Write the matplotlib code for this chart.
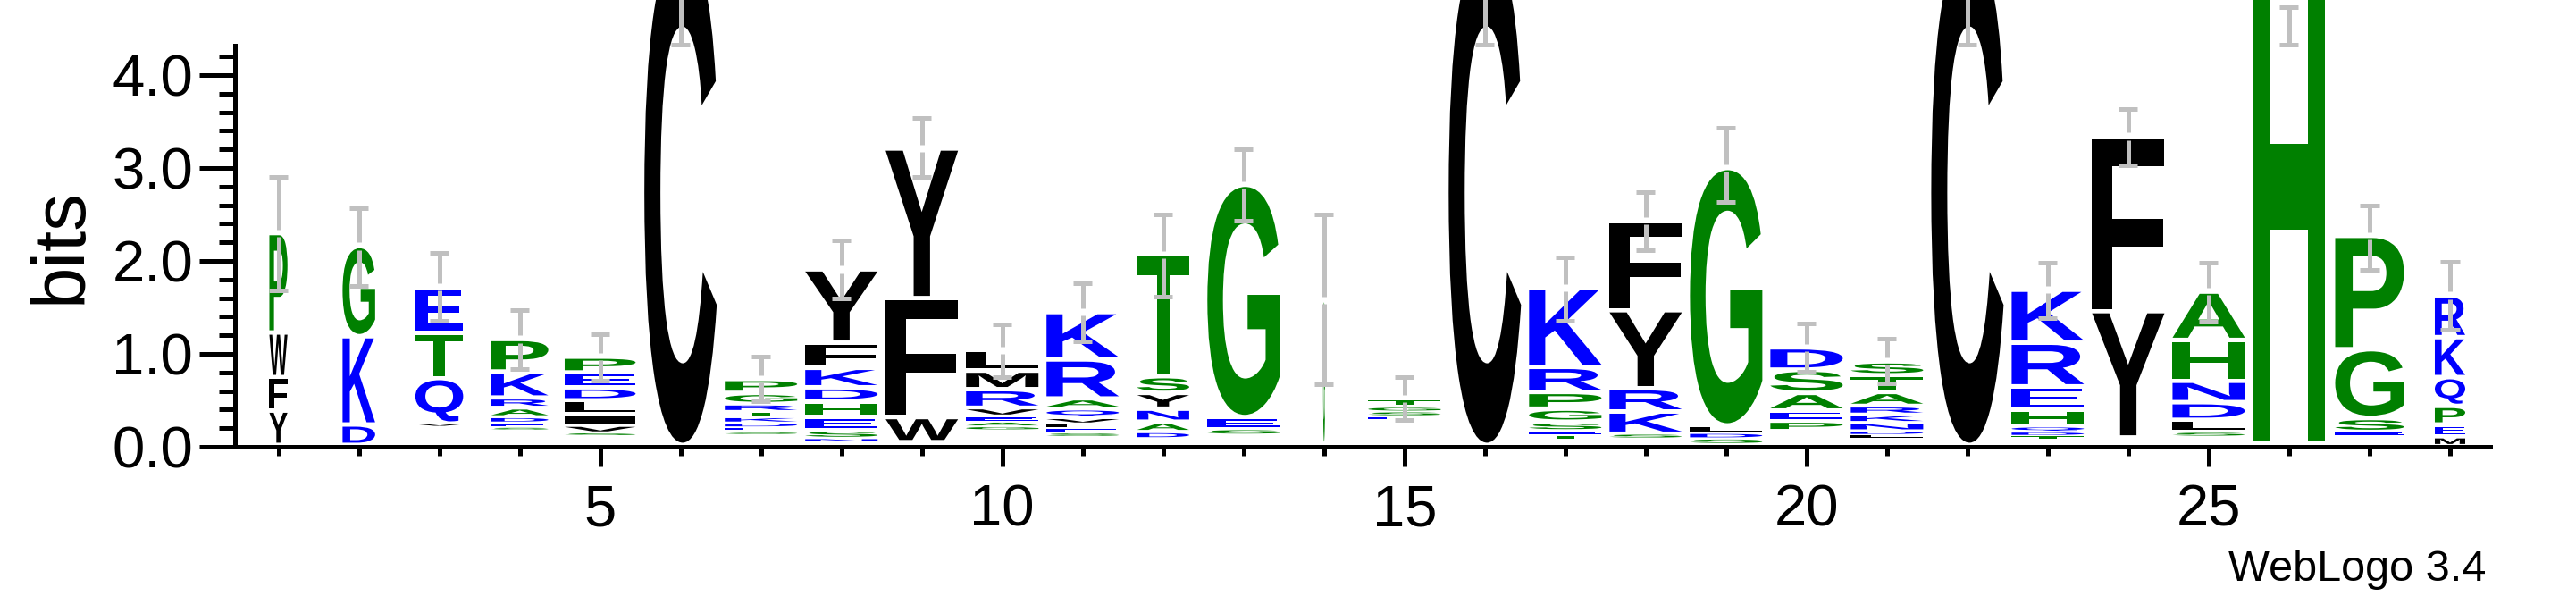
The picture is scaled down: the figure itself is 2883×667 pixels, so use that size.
import matplotlib
matplotlib.use("Agg")
import matplotlib.pyplot as plt
from matplotlib.textpath import TextPath
from matplotlib.patches import PathPatch
from matplotlib.font_manager import FontProperties
from matplotlib.transforms import Affine2D

# Sequence logo data, one entry per position, letters listed bottom -> top
positions = list(range(1, 29))
letters = [
    "YFWP", "DKG", "VQTE", "SEDARKP", "SVILDEP", "C", "SEDKTRGP", "NSEHDKFY",
    "WFY", "GAEVRML", "SELVQARK", "DANYST", "SEG", "G", "ESGT", "C",
    "TESGPRK", "SKRYF", "SDLG", "PEASD", "LDNKRATS", "C", "TDQHERK", "YF",
    "SLDNHA", "H", "ESGP", "MEPQKR",
]
heights = [
    [0.37, 0.36, 0.48, 1.07],
    [0.22, 0.95, 0.97],
    [0.03, 0.49, 0.49, 0.49],
    [0.03, 0.05, 0.06, 0.10, 0.11, 0.28, 0.35],
    [0.03, 0.08, 0.12, 0.15, 0.14, 0.16, 0.17],
    [5.38],
    [0.04, 0.04, 0.05, 0.06, 0.06, 0.08, 0.12, 0.15],
    [0.04, 0.09, 0.14, 0.17, 0.15, 0.21, 0.27, 0.79],
    [0.27, 1.28, 1.61],
    [0.04, 0.05, 0.06, 0.09, 0.20, 0.20, 0.22],
    [0.04, 0.05, 0.05, 0.06, 0.10, 0.11, 0.42, 0.51],
    [0.07, 0.11, 0.14, 0.17, 0.18, 1.31],
    [0.06, 0.13, 2.50],
    [1.55],
    [0.04, 0.05, 0.05, 0.09],
    [5.38],
    [0.05, 0.04, 0.10, 0.14, 0.18, 0.27, 0.85],
    [0.05, 0.24, 0.25, 0.84, 0.96],
    [0.06, 0.06, 0.08, 2.77],
    [0.11, 0.11, 0.19, 0.25, 0.24],
    [0.04, 0.04, 0.09, 0.09, 0.09, 0.15, 0.18, 0.15],
    [5.38],
    [0.04, 0.04, 0.06, 0.18, 0.25, 0.47, 0.57],
    [1.36, 1.88],
    [0.05, 0.13, 0.19, 0.23, 0.44, 0.52],
    [5.37],
    [0.04, 0.15, 0.74, 1.22],
    [0.10, 0.13, 0.20, 0.31, 0.43, 0.45],
]
# height of the many tiny, invisible symbols under each stack
base = [0.02, 0.02, 0.22, 0.18, 0.12, 0.02, 0.13, 0.05, 0.05, 0.18,
        0.11, 0.09, 0.13, 0.03, 0.29, 0.02, 0.08, 0.09, 0.03, 0.17,
        0.09, 0.02, 0.08, 0.10, 0.11, 0.03, 0.12, 0.01]
# stack width = fraction of non-gap symbols
widths = [0.25, 0.45, 0.66, 0.79, 0.98, 1.0, 1.0, 1.0, 1.0, 1.0,
          1.0, 0.72, 1.0, 0.025, 1.0, 1.0, 1.0, 1.0, 1.0, 1.0,
          1.0, 1.0, 1.0, 1.0, 1.0, 1.0, 0.95, 0.42]
err_lo = [1.68, 1.73, 1.36, 0.84, 0.71, 4.33, 0.49, 1.60, 2.90, 0.75,
          1.13, 1.62, 2.43, 0.67, 0.29, 4.33, 1.36, 2.12, 2.63, 0.81,
          0.68, 4.33, 1.38, 3.03, 1.35, 4.33, 1.90, 1.26]
err_hi = [2.90, 2.57, 2.09, 1.47, 1.21, 6.47, 0.97, 2.22, 3.54, 1.32,
          1.76, 2.50, 3.20, 2.50, 0.75, 6.47, 2.04, 2.74, 3.43, 1.33,
          1.16, 6.47, 1.98, 3.63, 1.98, 4.73, 2.60, 1.99]

colors = {}
for c in "CFWYLMIV":
    colors[c] = "black"
for c in "PGTSAH":
    colors[c] = "#008000"
for c in "KRDEQN":
    colors[c] = "#0000ff"

font = "Liberation Sans"
glyph_font = FontProperties(family=font, weight="bold")

W, H = 2883, 667
fig = plt.figure(figsize=(W / 100, H / 100), dpi=100)
ax = fig.add_axes([263 / W, 167 / H, (2787 - 263) / W, 500 / H])
ax.set_xlim(0.46, 28.5)
ax.set_ylim(0, 500 / 104)

full_w = 0.9
for pos, seq, hs, b, wf in zip(positions, letters, heights, base, widths):
    y = b
    for ch, h in zip(seq, hs):
        tp = TextPath((0, 0), ch, size=1, prop=glyph_font)
        ext = tp.get_extents()
        pad = min(0.024, 0.2 * h)
        w = full_w * wf
        tr = (Affine2D()
              .translate(-ext.x0, -ext.y0)
              .scale(w / ext.width, (h - 2 * pad) / ext.height)
              .translate(pos - w / 2, y + pad))
        ax.add_patch(PathPatch(tr.transform_path(tp), facecolor=colors[ch],
                               edgecolor="none", lw=0))
        y += h

# error bars, with a small break at the stack top
gap = 0.04
cap = 0.117
for pos, hs, b, lo, hi in zip(positions, heights, base, err_lo, err_hi):
    top = b + sum(hs)
    kw = dict(color="#c0c0c0", lw=3.6, solid_capstyle="butt", zorder=5)
    if lo < top < hi:
        ax.plot([pos, pos], [lo, top - gap], **kw)
        ax.plot([pos, pos], [top + gap, hi], **kw)
    else:
        ax.plot([pos, pos], [lo, hi], **kw)
    ax.plot([pos - cap, pos + cap], [lo, lo], **kw)
    ax.plot([pos - cap, pos + cap], [hi, hi], **kw)

# axes styling
for s in ["top", "right"]:
    ax.spines[s].set_visible(False)
ax.spines["left"].set_linewidth(3.6)
ax.spines["bottom"].set_linewidth(3.6)
ax.spines["left"].set_bounds(0, 4.32)

ax.set_yticks([0, 1, 2, 3, 4])
ax.set_yticks([i * 0.2 for i in range(22)], minor=True)
ax.set_yticklabels(["0.0", "1.0", "2.0", "3.0", "4.0"])
ax.set_xticks([5, 10, 15, 20, 25])
ax.set_xticks(positions, minor=True)
ax.tick_params(axis="y", which="major", length=28.8, width=3.6, pad=5,
               labelsize=47, direction="out")
ax.tick_params(axis="y", which="minor", length=13, width=3.6, direction="out")
ax.tick_params(axis="x", which="major", length=16, width=3.6, pad=14,
               labelsize=47, direction="out")
ax.tick_params(axis="x", which="minor", length=7.2, width=3.6, direction="out")
for lab in ax.get_xticklabels() + ax.get_yticklabels():
    lab.set_fontfamily(font)

fig.text(69 / W, (H - 275) / H, "bits", rotation=90, ha="center", va="center",
         fontsize=60, family=font)
fig.text(2782 / W, (H - 650) / H, "WebLogo 3.4", ha="right", va="baseline",
         fontsize=35, family=font)

fig.savefig("out.png", dpi=100)
